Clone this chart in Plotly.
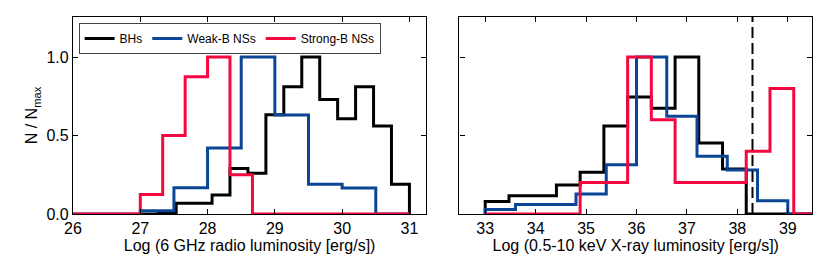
import plotly.graph_objects as go

# ---------------- data ----------------
# Left panel: Log 6 GHz radio luminosity histograms (normalised N/Nmax)
radio_bh_edges = [27.0, 27.267, 27.533, 27.8, 28.067, 28.333, 28.6, 28.867, 29.133,
                  29.4, 29.667, 29.933, 30.2, 30.467, 30.733, 31.0]
radio_bh_vals = [0.0, 0.01, 0.068, 0.068, 0.121, 0.29, 0.26, 0.632, 0.81,
                 1.0, 0.73, 0.606, 0.81, 0.56, 0.19]

radio_weak_edges = [26.0, 27.0, 27.5, 28.0, 28.5, 29.0, 29.5, 30.0, 30.5, 31.0]
radio_weak_vals = [0.0, 0.02, 0.167, 0.42, 1.0, 0.63, 0.19, 0.165, 0.0]

radio_strong_edges = [26.0, 27.0, 27.333, 27.667, 28.0, 28.333, 28.667, 31.0]
radio_strong_vals = [0.0, 0.125, 0.5, 0.875, 1.0, 0.25, 0.0]

# Right panel: Log 0.5-10 keV X-ray luminosity histograms
xray_bh_edges = [33.0, 33.471, 33.941, 34.412, 34.882, 35.353, 35.824, 36.294,
                 36.765, 37.235, 37.706, 38.176, 41.0]
xray_bh_vals = [0.079, 0.117, 0.117, 0.185, 0.266, 0.56, 0.745, 0.674,
                1.0, 0.453, 0.287, 0.0]

xray_weak_edges = [33.0, 33.6, 34.2, 34.8, 35.4, 36.0, 36.6, 37.2, 37.8, 38.4, 39.0, 41.0]
xray_weak_vals = [0.028, 0.06, 0.06, 0.128, 0.313, 1.0, 0.623, 0.368, 0.28, 0.085, 0.0]

xray_strong_edges = [33.0, 34.882, 35.353, 35.824, 36.294, 36.765, 37.235, 37.706,
                     38.176, 38.647, 39.118, 41.0]
xray_strong_vals = [0.0, 0.2, 0.2, 1.0, 0.6, 0.2, 0.2, 0.2, 0.4, 0.8, 0.0]

eddington_line = 38.3

series_names = ["BHs", "Weak-B NSs", "Strong-B NSs"]
left_ticks = [26, 27, 28, 29, 30, 31]
right_ticks = [33, 34, 35, 36, 37, 38, 39]
y_ticks = [0.0, 0.5, 1.0]

# ---------------- styling ----------------
COLORS = ["#000000", "#0b4595", "#f5073f"]
FONT = "Liberation Sans, Arial, sans-serif"
LW = 3


def step_xy(edges, vals):
    x = [edges[0]] + list(edges)
    y = [0.0] + list(vals) + [0.0]
    return x, y


fig = go.Figure()

left_sets = [(radio_bh_edges, radio_bh_vals), (radio_weak_edges, radio_weak_vals),
             (radio_strong_edges, radio_strong_vals)]
right_sets = [(xray_bh_edges, xray_bh_vals), (xray_weak_edges, xray_weak_vals),
              (xray_strong_edges, xray_strong_vals)]

for i, (e, v) in enumerate(left_sets):
    x, y = step_xy(e, v)
    fig.add_trace(go.Scatter(x=x, y=y, mode="lines", line=dict(color=COLORS[i], width=LW, shape="hv"),
                             name=series_names[i], xaxis="x", yaxis="y", showlegend=True))
for i, (e, v) in enumerate(right_sets):
    x, y = step_xy(e, v)
    fig.add_trace(go.Scatter(x=x, y=y, mode="lines", line=dict(color=COLORS[i], width=LW, shape="hv"),
                             name=series_names[i], xaxis="x2", yaxis="y2", showlegend=False))

fig.add_shape(type="line", xref="x2", yref="y2 domain", x0=eddington_line, x1=eddington_line,
              y0=0, y1=1, line=dict(color="black", width=2, dash="11px,5px"))

axis_common = dict(showline=True, linecolor="black", linewidth=1.3, mirror="ticks",
                   ticks="inside", ticklen=5, tickwidth=1.3, tickcolor="black",
                   showgrid=False, zeroline=False, automargin=False,
                   tickfont=dict(family=FONT, size=16, color="black"))

TITLE_FONT = dict(family=FONT, size=16, color="black")

# The page body adds an 8px offset; the figure size/margins compensate for it.
fig.update_layout(
    width=822, height=264,
    margin=dict(l=65, r=18, t=9, b=58),
    paper_bgcolor="white", plot_bgcolor="white",
    font=dict(family=FONT, color="black"),
    xaxis=dict(domain=[0, 0.478], range=[26, 31.25], tickvals=left_ticks, anchor="y",
               title=dict(text="Log (6 GHz radio luminosity [erg/s])", font=TITLE_FONT, standoff=2),
               **axis_common),
    yaxis=dict(range=[0, 1.255], tickvals=y_ticks, tickformat=".1f", anchor="x",
               title=dict(text="N / N<sub>max</sub>", font=TITLE_FONT, standoff=4),
               **axis_common),
    xaxis2=dict(domain=[0.523, 1.0], range=[32.49, 39.48], tickvals=right_ticks, anchor="y2",
                title=dict(text="Log (0.5-10 keV X-ray luminosity [erg/s])", font=TITLE_FONT, standoff=2),
                **axis_common),
    yaxis2=dict(range=[0, 1.255], tickvals=y_ticks, showticklabels=False, anchor="x2",
                **axis_common),
    legend=dict(orientation="h", x=0.0076, y=0.969, xanchor="left", yanchor="top",
                bordercolor="#444444", borderwidth=1, bgcolor="white",
                font=dict(family=FONT, size=12, color="black"),
                itemwidth=30, tracegroupgap=0),
    showlegend=True,
)

fig.write_html("out.html")
